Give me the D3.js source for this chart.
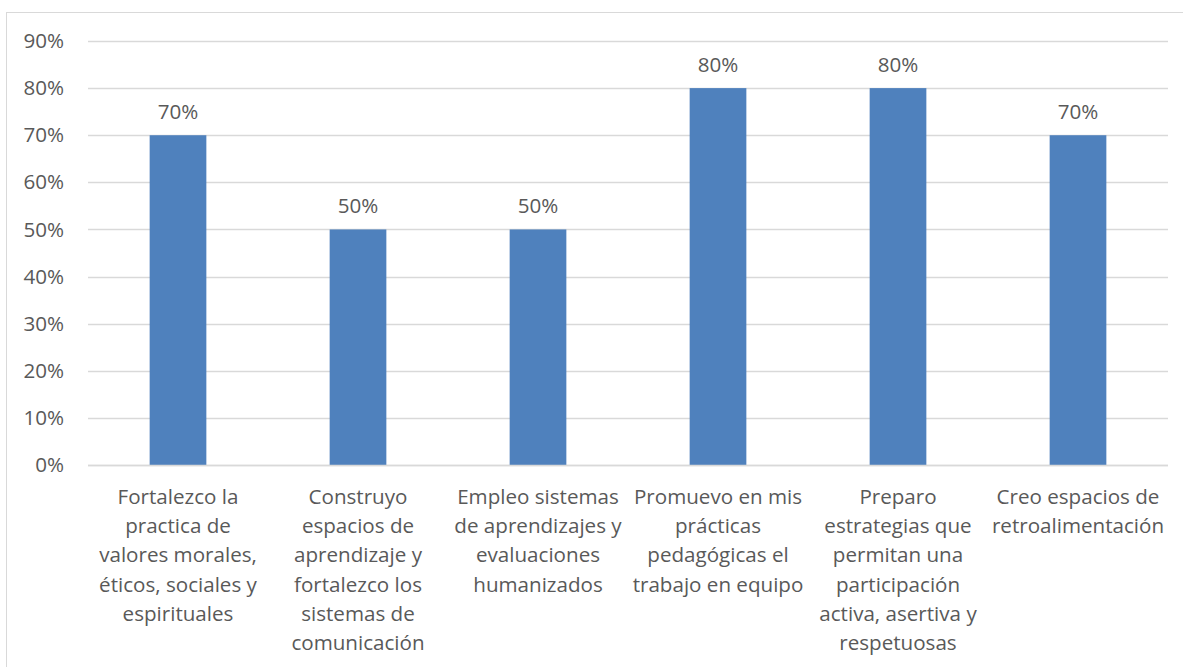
<!DOCTYPE html>
<html>
<head>
<meta charset="utf-8">
<script src="https://cdn.jsdelivr.net/npm/d3@7"></script>
<style>
  html, body { margin: 0; padding: 0; background: #fff; }
  svg { display: block; }
  text { font-family: "Open Sans", "Noto Sans", sans-serif; fill: #595959; }
</style>
</head>
<body>
<svg id="chart" width="1183" height="667"></svg>
<script>
const categories = [
  ["Fortalezco la", "practica de", "valores morales,", "éticos, sociales y", "espirituales"],
  ["Construyo", "espacios de", "aprendizaje y", "fortalezco los", "sistemas de", "comunicación"],
  ["Empleo sistemas", "de aprendizajes y", "evaluaciones", "humanizados"],
  ["Promuevo en mis", "prácticas", "pedagógicas el", "trabajo en equipo"],
  ["Preparo", "estrategias que", "permitan una", "participación", "activa, asertiva y", "respetuosas"],
  ["Creo espacios de", "retroalimentación"]
];
const values = [0.7, 0.5, 0.5, 0.8, 0.8, 0.7];
const yTicks = [0, 0.1, 0.2, 0.3, 0.4, 0.5, 0.6, 0.7, 0.8, 0.9];

(function () {
const svg = d3.select("#chart");
const W = 1183, H = 667;
const FS = "20.6px";
const FF = "'Open Sans', 'Noto Sans', sans-serif";

// outer chart border
svg.append("rect").attr("x", 6.5).attr("y", 12.5).attr("width", W + 10).attr("height", H + 10)
  .attr("fill", "none").attr("stroke", "#d9d9d9").attr("stroke-width", 1);

const pLeft = 88, pRight = 1168, pTop = 41, pBottom = 465;
const idx = d3.range(values.length);
const x = d3.scaleBand().domain(idx).range([pLeft, pRight]).paddingInner(0.685).paddingOuter(0.3425);
const y = d3.scaleLinear().domain([0, 0.9]).range([pBottom, pTop]);

// gridlines
svg.append("g").selectAll("line").data(yTicks).join("line")
  .attr("x1", pLeft).attr("x2", pRight)
  .attr("y1", d => Math.round(y(d)) + 0.5).attr("y2", d => Math.round(y(d)) + 0.5)
  .attr("stroke", "#d9d9d9").attr("stroke-width", 1.3);

// y axis labels
const yAxis = d3.axisLeft(y).tickValues(yTicks).tickFormat(d3.format(".0%")).tickSize(0).tickPadding(24);
const yg = svg.append("g").attr("transform", `translate(${pLeft},0)`).call(yAxis);
yg.select(".domain").remove();
yg.selectAll("text").style("font-size", FS).attr("fill", "#595959").style("font-family", FF);

// bars
svg.append("g").selectAll("rect").data(values).join("rect")
  .attr("x", (d, i) => x(i)).attr("width", x.bandwidth())
  .attr("y", d => y(d)).attr("height", d => y(0) - y(d))
  .attr("fill", "#4F81BD");

// axis line (baseline)
svg.append("line").attr("x1", pLeft).attr("x2", pRight)
  .attr("y1", Math.round(y(0)) + 0.5).attr("y2", Math.round(y(0)) + 0.5)
  .attr("stroke", "#d9d9d9").attr("stroke-width", 1.3);

// data labels
svg.append("g").selectAll("text").data(values).join("text")
  .attr("x", (d, i) => x(i) + x.bandwidth() / 2)
  .attr("y", d => y(d) - 16.5)
  .attr("text-anchor", "middle")
  .style("font-size", FS)
  .text(d => d3.format(".0%")(d));

// category labels
const cg = svg.append("g");
categories.forEach((lines, i) => {
  const t = cg.append("text")
    .attr("x", x(i) + x.bandwidth() / 2)
    .attr("y", 503)
    .attr("text-anchor", "middle")
    .style("font-size", FS);
  lines.forEach((ln, j) => {
    t.append("tspan").attr("x", x(i) + x.bandwidth() / 2).attr("y", 504 + j * 29.2).text(ln);
  });
});
})();
</script>
</body>
</html>
